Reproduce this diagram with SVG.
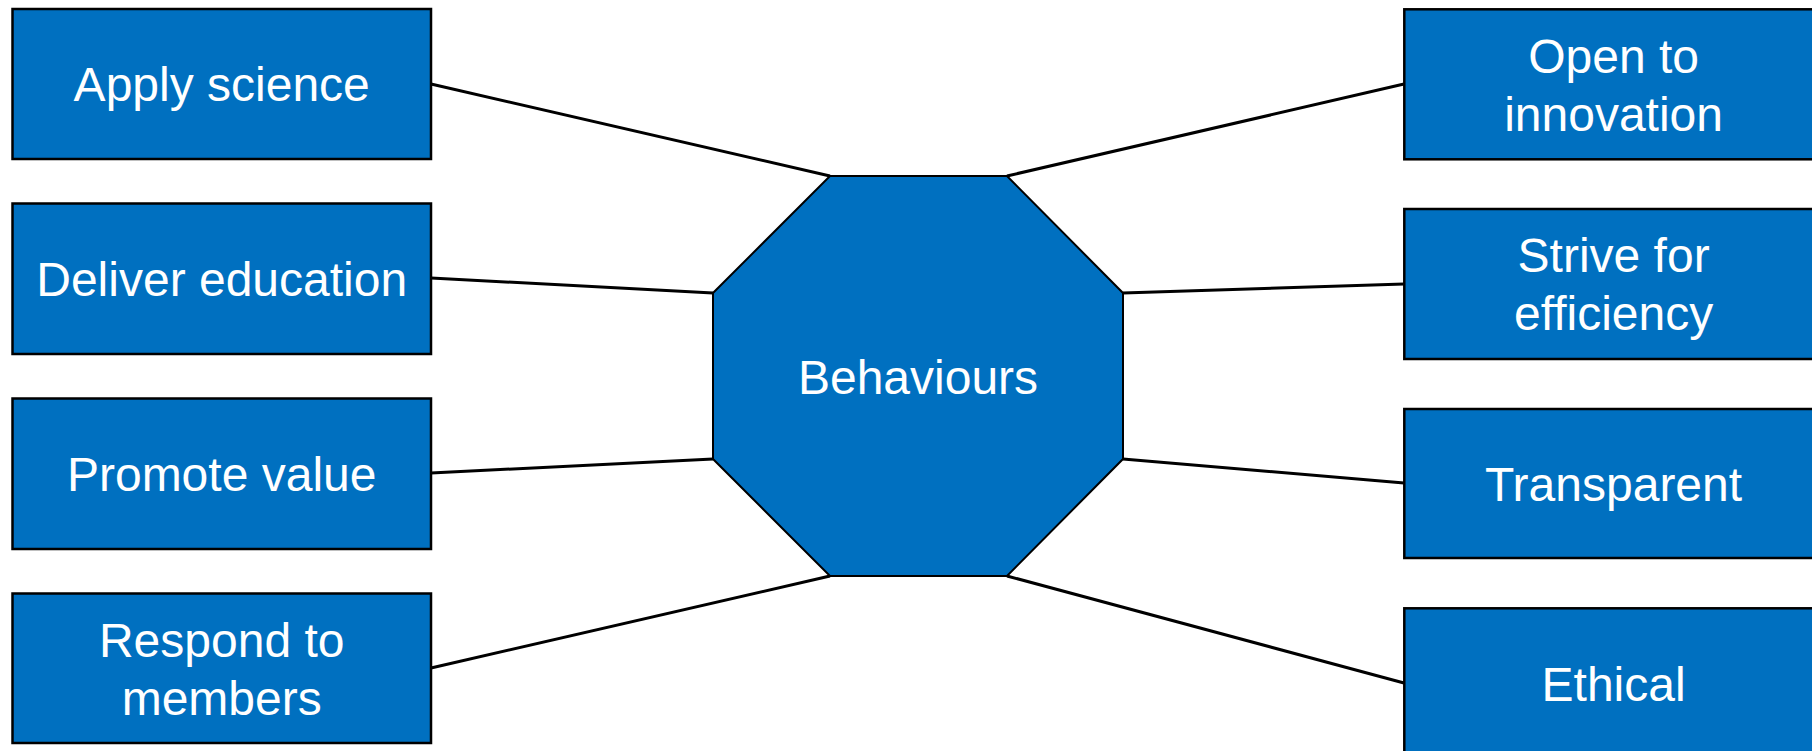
<svg xmlns="http://www.w3.org/2000/svg" width="1812" height="751" viewBox="0 0 1812 751">
  <style>
    .box { fill: #0070C0; stroke: #000; stroke-width: 2.5; }
    .hub { fill: #0070C0; stroke: #000; stroke-width: 2; }
    .lbl { font-family: "Liberation Sans", Arial, sans-serif; font-size: 48px; fill: #fff; text-anchor: middle; }
    .link { stroke: #000; stroke-width: 3; fill: none; }
  </style>
  <rect width="1812" height="751" fill="#fff"/>

  <g id="connectors">
    <line class="link" x1="431" y1="84" x2="830" y2="176"/>
    <line class="link" x1="431" y1="278" x2="713" y2="293"/>
    <line class="link" x1="431" y1="473" x2="713" y2="459"/>
    <line class="link" x1="431" y1="668" x2="830" y2="576"/>
    <line class="link" x1="1404" y1="84" x2="1007" y2="176"/>
    <line class="link" x1="1404" y1="284" x2="1123" y2="293"/>
    <line class="link" x1="1404" y1="483" x2="1123" y2="459"/>
    <line class="link" x1="1404" y1="683" x2="1007" y2="576"/>
  </g>

  <g id="behaviours">
    <polygon class="hub" points="830,176 1007,176 1123,293 1123,459 1007,576 830,576 713,459 713,293"/>
    <text class="lbl" x="918" y="394">Behaviours</text>
  </g>

  <g id="apply-science">
    <rect class="box" x="12.5" y="9" width="418.5" height="150"/>
    <text class="lbl" x="221.7" y="101">Apply science</text>
  </g>
  <g id="deliver-education">
    <rect class="box" x="12.5" y="203.5" width="418.5" height="150.5"/>
    <text class="lbl" x="221.7" y="296">Deliver education</text>
  </g>
  <g id="promote-value">
    <rect class="box" x="12.5" y="398.5" width="418.5" height="150.5"/>
    <text class="lbl" x="221.7" y="491">Promote value</text>
  </g>
  <g id="respond-to-members">
    <rect class="box" x="12.5" y="593.5" width="418.5" height="149.5"/>
    <text class="lbl" x="221.7" y="657">Respond to</text>
    <text class="lbl" x="221.7" y="715">members</text>
  </g>

  <g id="open-to-innovation">
    <rect class="box" x="1404.3" y="9.3" width="418.5" height="150"/>
    <text class="lbl" x="1613.6" y="72.5">Open to</text>
    <text class="lbl" x="1613.6" y="130.5">innovation</text>
  </g>
  <g id="strive-for-efficiency">
    <rect class="box" x="1404.3" y="209" width="418.5" height="150"/>
    <text class="lbl" x="1613.6" y="272">Strive for</text>
    <text class="lbl" x="1613.6" y="330">efficiency</text>
  </g>
  <g id="transparent">
    <rect class="box" x="1404.3" y="409" width="418.5" height="149"/>
    <text class="lbl" x="1613.6" y="501">Transparent</text>
  </g>
  <g id="ethical">
    <rect class="box" x="1404.3" y="608.3" width="418.5" height="150"/>
    <text class="lbl" x="1613.6" y="701">Ethical</text>
  </g>
</svg>
